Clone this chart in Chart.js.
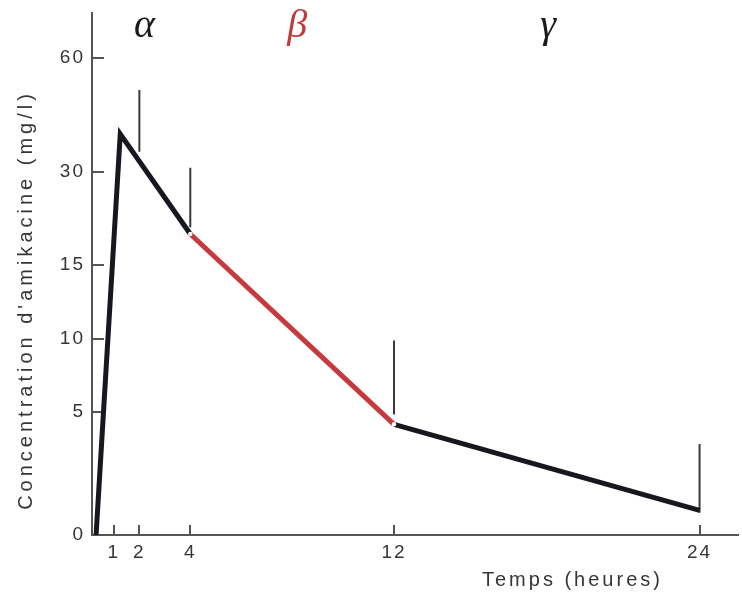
<!DOCTYPE html>
<html>
<head>
<meta charset="utf-8">
<script src="https://cdn.jsdelivr.net/npm/chart.js@4/dist/chart.umd.min.js"></script>
<style>
  html, body { margin: 0; padding: 0; background: #fff; }
  #wrap { width: 742px; height: 592px; }
</style>
</head>
<body>
<div id="wrap"><canvas id="myChart" width="742" height="592"></canvas></div>
<script>
// Données : concentration d'amikacine en fonction du temps
const timeH = [0.3, 1.25, 4, 12, 24];
const concMgL = [0, 40, 20, 4.5, 1.0];

// Phases (indices de début/fin dans timeH)
const phaseNames = ['α', 'β', 'γ'];
const phaseStart = [0, 2, 3];
const phaseEnd = [2, 3, 4];
const phaseLabelAt = [2.2, 8.2, 18.05];

// Traits verticaux aux prélèvements
const markerTimes = [2, 4, 12, 24];
const markerTop = [51.6, 31.1, 9.9, 3.7];
const markerBottom = [35.3, 21.1, 4.9, 0.9];

// Graduations
const xTickValues = [1, 2, 4, 12, 24];
const yTickValues = [0, 5, 10, 15, 30, 60];

// Échelle verticale non linéaire (dessinée à la main) : unités d'axe par graduation
const yAxisSteps = [0, 123, 196, 270, 363, 477];
const yAxisTop = 522;

function toUnit(v) {
    const n = yTickValues.length;
    let i = 0;
    while (i < n - 2 && v > yTickValues[i + 1]) i++;
    const v0 = yTickValues[i], v1 = yTickValues[i + 1];
    const u0 = yAxisSteps[i], u1 = yAxisSteps[i + 1];
    return u0 + (v - v0) / (v1 - v0) * (u1 - u0);
}

const BLACK = '#17171f';
const RED = '#c63a3d';
const phaseColors = [BLACK, RED, BLACK];
const phaseTextColors = ['#1a1a1a', '#c0393b', '#1a1a1a'];

function pts(from, to) {
    const out = [];
    for (let i = from; i <= to; i++) out.push({ x: timeH[i], y: toUnit(concMgL[i]) });
    return out;
}

const datasets = [];

// petites coupures blanches aux jonctions
datasets.push({
    data: [pts(2, 2)[0], pts(3, 3)[0]],
    showLine: false,
    pointRadius: 2.2,
    pointBackgroundColor: '#ffffff',
    pointBorderWidth: 0
});

phaseNames.forEach((name, k) => {
    datasets.push({
        label: name,
        data: pts(phaseStart[k], phaseEnd[k]),
        showLine: true,
        borderColor: phaseColors[k],
        borderWidth: 5,
        borderJoinStyle: 'miter',
        borderCapStyle: 'butt',
        pointRadius: 0,
        tension: 0
    });
});

const markerData = [];
markerTimes.forEach((t, i) => {
    markerData.push({ x: t, y: toUnit(markerTop[i]) });
    markerData.push({ x: t, y: toUnit(markerBottom[i]) });
    markerData.push({ x: t, y: null });
});
datasets.push({
    data: markerData,
    showLine: true,
    spanGaps: false,
    borderColor: '#3a3a3a',
    borderWidth: 2,
    pointRadius: 0
});

const FONT = "'Liberation Sans', Arial, sans-serif";
const TEXT = '#363636';

function noPadding(scale) {
    scale.paddingTop = 0;
    scale.paddingBottom = 0;
    scale.paddingLeft = 0;
    scale.paddingRight = 0;
}

const textPlugin = {
    id: 'textPlugin',
    beforeDraw(chart) {
        chart.ctx.letterSpacing = '2px';
    },
    afterDraw(chart) {
        const { ctx, chartArea, scales } = chart;
        ctx.save();
        // lettres des phases
        ctx.letterSpacing = '0px';
        ctx.textAlign = 'center';
        ctx.textBaseline = 'middle';
        ctx.font = "italic 40px 'Liberation Serif', serif";
        phaseNames.forEach((name, k) => {
            ctx.fillStyle = phaseTextColors[k];
            ctx.fillText(name, scales.x.getPixelForValue(phaseLabelAt[k]), chartArea.top + 13);
        });
        // titre de l'axe X
        ctx.fillStyle = TEXT;
        ctx.font = '20px ' + FONT;
        ctx.letterSpacing = '3px';
        ctx.textAlign = 'left';
        ctx.fillText('Temps (heures)', 482, 580);
        // titre de l'axe Y
        ctx.translate(26, 300);
        ctx.rotate(-Math.PI / 2);
        ctx.letterSpacing = '4px';
        ctx.textAlign = 'center';
        ctx.fillText("Concentration d'amikacine (mg/l)", 0, 0);
        ctx.restore();
    }
};

const ctx = document.getElementById('myChart').getContext('2d');
const myChart = new Chart(ctx, {
    type: 'scatter',
    data: { datasets: datasets },
    options: {
        responsive: false,
        animation: false,
        layout: { padding: { top: 13, left: 0, right: 0, bottom: 0 } },
        plugins: {
            legend: { display: false },
            tooltip: { enabled: false }
        },
        scales: {
            x: {
                type: 'linear',
                min: 0.14,
                max: 25.51,
                afterBuildTicks: (scale) => { scale.ticks = xTickValues.map(v => ({ value: v })); },
                afterFit: (scale) => { scale.height = 57; noPadding(scale); },
                ticks: {
                    color: TEXT,
                    font: { family: FONT, size: 19 },
                    padding: 16,
                    maxRotation: 0,
                    autoSkip: false,
                    callback: (v) => String(v)
                },
                grid: {
                    drawOnChartArea: false,
                    tickLength: -10,
                    color: '#555',
                    lineWidth: 2
                },
                border: { color: '#555', width: 2 }
            },
            y: {
                type: 'linear',
                min: 0,
                max: yAxisTop,
                afterBuildTicks: (scale) => { scale.ticks = yTickValues.map(v => ({ value: toUnit(v) })); },
                afterFit: (scale) => { scale.width = 92; noPadding(scale); },
                ticks: {
                    color: TEXT,
                    font: { family: FONT, size: 19 },
                    padding: 19,
                    autoSkip: false,
                    callback: (u) => {
                        const i = yAxisSteps.findIndex(s => Math.abs(s - u) < 0.01);
                        return i >= 0 ? String(yTickValues[i]) : '';
                    }
                },
                grid: {
                    drawOnChartArea: false,
                    tickLength: -12,
                    color: '#555',
                    lineWidth: 2
                },
                border: { color: '#555', width: 2 }
            }
        }
    },
    plugins: [textPlugin]
});
</script>
</body>
</html>
